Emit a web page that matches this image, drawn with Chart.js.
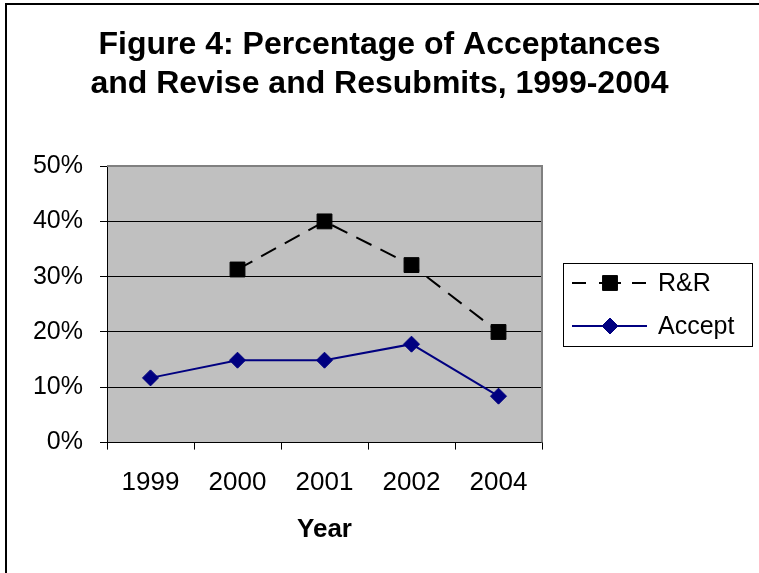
<!DOCTYPE html>
<html>
<head>
<meta charset="utf-8">
<script src="https://cdn.jsdelivr.net/npm/chart.js@4.4.1/dist/chart.umd.min.js"></script>
<style>
  html, body { margin: 0; padding: 0; background: #fff; }
  #wrap { width: 759px; height: 573px; }
</style>
</head>
<body>
<div id="wrap"><canvas id="chart" width="759" height="573"></canvas></div>
<script>
const years = ["1999", "2000", "2001", "2002", "2004"];
const rrValues = [null, 31.3, 40.0, 32.1, 20.0];
const acceptValues = [11.7, 14.9, 14.9, 17.8, 8.4];
const yTicks = [0, 10, 20, 30, 40, 50];

const FONT = "'Liberation Sans', Arial, sans-serif";

function drawMarker(ctx, style, r, x, y) {
  if (style === "rect") {
    const s = Math.SQRT1_2 * r;
    ctx.rect(x - s, y - s, 2 * s, 2 * s);
  } else {
    ctx.moveTo(x, y - r);
    ctx.lineTo(x + r, y);
    ctx.lineTo(x, y + r);
    ctx.lineTo(x - r, y);
    ctx.closePath();
  }
}

// gray plot area, outer frame, and the boxed legend on the right
const decor = {
  id: "decor",
  beforeDraw(chart) {
    const { ctx, chartArea: a } = chart;
    ctx.save();
    ctx.fillStyle = "#c0c0c0";
    ctx.fillRect(a.left, a.top, a.right - a.left, a.bottom - a.top);
    ctx.strokeStyle = "#000";
    ctx.lineWidth = 2;
    ctx.beginPath();
    ctx.moveTo(6, chart.height);
    ctx.lineTo(6, 4);
    ctx.lineTo(chart.width, 4);
    ctx.stroke();
    ctx.restore();
  },
  beforeDatasetsDraw(chart) {
    const { ctx, chartArea: a } = chart;
    ctx.save();
    ctx.strokeStyle = "#808080";
    ctx.lineWidth = 2;
    ctx.beginPath();
    ctx.moveTo(a.left, a.top);
    ctx.lineTo(a.right, a.top);
    ctx.lineTo(a.right, a.bottom);
    ctx.stroke();
    ctx.restore();
  },
  afterDraw(chart) {
    const { ctx } = chart;
    ctx.save();
    ctx.strokeStyle = "#000";
    ctx.lineWidth = 1;
    ctx.strokeRect(563.5, 263.5, 189, 83);
    const rows = [283, 326];
    chart.data.datasets.forEach((ds, i) => {
      const y = rows[i];
      ctx.strokeStyle = ds.borderColor;
      ctx.lineWidth = ds.borderWidth;
      ctx.beginPath();
      if (ds.borderDash) {
        // one dash either side of the marker, as in the original key
        ctx.moveTo(572, y); ctx.lineTo(586, y);
        ctx.moveTo(599, y); ctx.lineTo(621, y);
        ctx.moveTo(632, y); ctx.lineTo(646, y);
      } else {
        ctx.moveTo(572, y); ctx.lineTo(647, y);
      }
      ctx.stroke();
      ctx.fillStyle = ds.pointBackgroundColor;
      ctx.strokeStyle = ds.pointBorderColor;
      ctx.lineWidth = 1;
      ctx.beginPath();
      drawMarker(ctx, ds.pointStyle, ds.pointRadius, 610, y);
      ctx.fill();
      ctx.stroke();
      ctx.fillStyle = "#000";
      ctx.font = "25px " + FONT;
      ctx.textBaseline = "middle";
      ctx.textAlign = "left";
      ctx.fillText(ds.label, 658, y + 1);
    });
    ctx.restore();
  }
};

new Chart(document.getElementById("chart"), {
  type: "line",
  data: {
    labels: years,
    datasets: [
      {
        label: "R&R",
        data: rrValues,
        borderColor: "#000",
        borderWidth: 2,
        borderDash: [17, 10],
        pointStyle: "rect",
        pointRadius: 10.5,
        pointHoverRadius: 10.5,
        pointBackgroundColor: "#000",
        pointBorderColor: "#000",
        pointBorderWidth: 1,
        spanGaps: false,
        tension: 0
      },
      {
        label: "Accept",
        data: acceptValues,
        borderColor: "#000080",
        borderWidth: 2,
        pointStyle: "rectRot",
        pointRadius: 8,
        pointHoverRadius: 8,
        pointBackgroundColor: "#000080",
        pointBorderColor: "#000080",
        pointBorderWidth: 1,
        tension: 0
      }
    ]
  },
  options: {
    responsive: false,
    animation: false,
    layout: { padding: { left: 0, right: 0, top: 0, bottom: 28 } },
    plugins: {
      legend: { display: false },
      tooltip: { enabled: false },
      title: {
        display: true,
        text: ["Figure 4: Percentage of Acceptances", "and Revise and Resubmits, 1999-2004"],
        color: "#000",
        font: { family: FONT, size: 32, weight: "bold", lineHeight: 1.22 },
        padding: { top: 26, bottom: 62 }
      }
    },
    scales: {
      x: {
        offset: true,
        grid: {
          offset: true,
          drawOnChartArea: false,
          drawTicks: true,
          tickLength: 7,
          color: "#000",
          lineWidth: 1
        },
        border: { display: true, color: "#000", width: 1 },
        ticks: {
          color: "#000",
          font: { family: FONT, size: 26 },
          padding: 18,
          maxRotation: 0,
          autoSkip: false
        },
        title: {
          display: true,
          text: "Year",
          color: "#000",
          font: { family: FONT, size: 26, weight: "bold" },
          padding: { top: -3, bottom: 0 }
        }
      },
      y: {
        min: 0,
        max: 50,
        afterFit(scale) { scale.width = 107; },
        afterBuildTicks(scale) { scale.ticks = yTicks.map(v => ({ value: v })); },
        grid: {
          color: "#000",
          lineWidth: 1,
          tickLength: 7
        },
        border: { display: true, color: "#000", width: 1 },
        ticks: {
          color: "#000",
          font: { family: FONT, size: 25 },
          padding: 17,
          callback: v => v + "%"
        }
      },
      // empty right-hand axis that reserves the room the legend sits in
      yRight: {
        position: "right",
        display: true,
        afterFit(scale) { scale.width = 217; },
        grid: { display: false, drawTicks: false },
        border: { display: false },
        ticks: { display: false }
      }
    }
  },
  plugins: [decor]
});
</script>
</body>
</html>
